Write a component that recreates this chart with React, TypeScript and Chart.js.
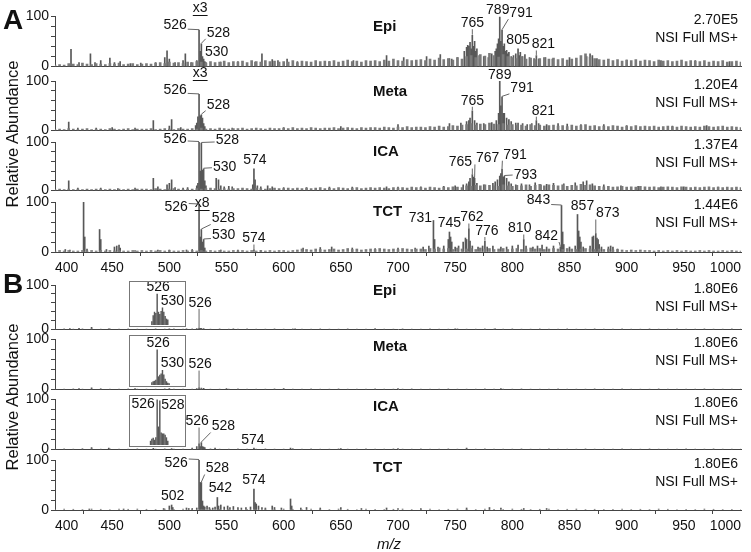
import React, { useEffect, useRef } from 'react';
import { Chart, registerables } from 'chart.js';

Chart.register(...registerables);

const FONT = '"Liberation Sans", Arial, Helvetica, sans-serif';
const PEAK_C = '#585858';
const NOISE_C = '#7a7a7a';
const AXIS_C = '#444';

// ---------- x grids for baseline noise (m/z) ----------
const gridA = [400,404,408,412,416,420,424,428,432,436,440,444,448,452,456,460,464,468,472,476,480,484,488,492,496,500,504,508,512,516,520,524,528,532,536,540,544,548,552,556,560,564,568,572,576,580,584,588,592,596,600,604,608,612,616,620,624,628,632,636,640,644,648,652,656,660,664,668,672,676,680,684,688,692,696,700,704,708,712,716,720,724,728,732,736,740,744,748,752,756,760,764,768,772,776,780,784,788,792,796,800,804,808,812,816,820,824,828,832,836,840,844,848,852,856,860,864,868,872,876,880,884,888,892,896,900,904,908,912,916,920,924,928,932,936,940,944,948,952,956,960,964,968,972,976,980,984,988,992,996,1000];
const gridB = [400,408,416,424,432,440,448,456,464,472,480,488,496,504,512,520,528,536,544,552,560,568,576,584,592,600,608,616,624,632,640,648,656,664,672,680,688,696,704,712,720,728,736,744,752,760,768,776,784,792,800,808,816,824,832,840,848,856,864,872,880,888,896,904,912,920,928,936,944,952,960,968,976,984,992,1000];

// ---------- Panel A: baseline noise (relative abundance %) ----------
const epiANoise = [
  3,4,3,6,5,4,7,5,4,6, 5,4,6,5,7,4,5,6,4,5, 6,5,7,8,6,9,7,8,6,9, 8,10,9,7,10,8,9,11,8,10,
  9,11,8,12,10,9,12,10,11,9, 10,9,12,8,11,10,9,12,10,11, 10,12,9,11,13,10,11,9,12,11, 12,10,13,11,15,12,11,14,12,13,
  14,12,15,13,17,14,16,13,18,15, 20,22,18,24,21,26,22,19,24,20, 18,16,20,15,17,14,16,18,15,17, 14,16,13,15,17,22,25,19,16,14,
  13,15,12,14,11,13,12,14,11,13, 12,10,13,11,12,10,11,13,10,12, 11,10,12,9,11,10,12,9,10,11, 9];
const metaANoise = [
  2,3,2,4,3,2,3,4,2,3, 3,2,4,3,2,3,4,2,3,3, 3,4,2,3,4,3,2,4,3,3, 4,3,5,3,4,3,5,4,3,4,
  4,5,3,4,5,4,3,5,4,4, 5,4,6,4,5,4,6,5,4,5, 5,6,4,5,6,5,4,6,5,6, 6,5,7,6,5,7,6,8,6,7,
  7,6,8,7,9,7,8,10,9,11, 12,14,11,13,12,15,13,12,14,11, 12,10,11,9,12,10,11,9,10,11, 9,10,8,11,9,10,12,9,10,8,
  9,8,10,9,7,9,8,10,8,9, 8,9,7,8,9,8,7,9,8,7, 8,7,9,8,7,8,9,7,8,7, 6];
const icaANoise = [
  2,3,2,3,2,3,2,3,2,3, 3,2,3,2,3,2,3,2,3,3, 3,2,4,3,2,3,4,3,2,3, 3,4,3,4,5,4,3,4,3,4,
  4,5,4,3,5,4,3,4,5,4, 4,5,4,5,4,5,4,5,6,4, 5,4,6,5,4,5,6,4,5,6, 5,6,5,4,6,5,6,5,7,6,
  6,5,7,6,5,7,6,8,7,6, 10,9,11,10,12,11,10,9,12,10, 9,11,10,12,9,11,13,10,12,11, 10,12,9,11,10,13,11,12,10,9,
  8,9,7,8,9,7,8,7,9,8, 7,8,6,7,8,7,6,8,7,6, 7,6,7,8,6,7,6,7,6,7, 6];
const tctANoise = [
  2,3,2,3,2,2,3,2,3,2, 3,2,3,2,3,2,2,3,2,3, 2,3,2,3,2,3,2,2,3,2, 3,2,3,2,3,2,3,2,2,3,
  2,3,2,3,2,3,2,3,2,3, 3,2,3,4,6,5,4,6,5,4, 5,6,4,5,7,5,6,4,5,6, 5,7,6,5,6,5,7,6,5,6,
  6,5,7,6,8,6,7,5,8,6, 6,7,5,8,6,7,5,6,7,5, 6,7,5,6,8,6,7,5,6,7, 6,5,7,6,5,6,7,6,5,6,
  5,6,4,5,4,3,4,3,4,3, 3,2,3,2,3,2,3,2,3,2, 2,3,2,3,2,2,3,2,3,2, 2];

// ---------- Panel A: peaks [m/z, relative abundance %] ----------
const epiAPeaks: [number, number][] = [
  [414,34],[421,8],[431,25],[435,8],[440,12],[448,17],[452,8],[457,10],[466,6],[475,7],[488,8],[496,18],[498,31],[500,15],
  [505,8],[512,12],[514,25],[519,8],[524,12],[526,72],[527,30],[528,45],[529,20],[530,15],[531,10],[532,8],[545,9],[560,10],
  [575,9],[581,25],[590,14],[595,12],[603,15],[612,10],[640,10],[661,12],[690,22],[705,18],[725,20],[737,24],[745,16],[747,15],
  [752,18],[758,30],[760,38],[761,42],[762,40],[763,48],[764,35],[765,62],[766,40],[767,50],[768,30],[769,35],[771,22],[775,20],
  [779,18],[782,25],[785,30],[786,35],[787,45],[788,55],[789,98],[790,50],[791,72],[792,40],[793,45],[794,30],[795,32],[796,25],
  [797,28],[799,20],[801,22],[803,25],[805,35],[806,22],[807,28],[809,20],[811,24],[815,18],[819,16],[821,22],[823,15],[829,18],
  [835,15],[850,18],[865,20],[868,25],[870,22],[874,16],[900,13],[930,12],[960,12],[990,10]];
const metaAPeaks: [number, number][] = [
  [412,17],[420,5],[436,5],[450,6],[470,5],[486,20],[500,9],[502,22],[510,6],[523,10],[524,15],[525,28],[526,73],[527,30],
  [528,32],[529,25],[530,14],[531,8],[555,5],[600,6],[650,8],[700,12],[745,14],[755,15],[760,18],[762,20],[763,25],[765,40],
  [767,20],[769,15],[775,14],[782,16],[786,20],[788,35],[789,100],[790,50],[791,68],[792,35],[793,35],[795,25],[797,22],[799,18],
  [803,15],[805,15],[809,14],[813,12],[817,14],[821,20],[823,14],[830,12],[840,14],[848,13],[860,12],[880,12],[900,10],[940,9],[970,10]];
const icaAPeaks: [number, number][] = [
  [412,20],[420,5],[440,5],[455,4],[470,5],[486,25],[490,8],[498,12],[500,15],[502,22],[505,6],[512,5],[516,6],[524,10],[525,15],
  [526,100],[527,40],[528,98],[529,42],[530,45],[531,20],[532,10],[541,25],[543,22],[545,10],[548,8],[552,9],[555,8],[573,12],
  [574,45],[575,22],[577,10],[580,8],[586,10],[590,8],[600,6],[620,6],[640,7],[660,7],[690,8],[700,7],[720,8],[740,9],[750,10],
  [757,12],[760,14],[762,18],[763,25],[765,33],[766,28],[767,25],[769,15],[775,12],[783,15],[785,18],[787,22],[789,30],[790,35],
  [791,45],[792,28],[793,30],[795,25],[797,18],[799,14],[803,12],[808,14],[815,12],[820,16],[825,12],[830,13],[836,15],[845,14],
  [855,16],[862,18],[865,20],[870,14],[880,12],[895,10],[910,9],[930,8],[950,8],[980,7]];
const tctAPeaks: [number, number][] = [
  [409,5],[413,4],[425,100],[426,30],[428,6],[439,45],[440,25],[445,5],[452,10],[454,12],[456,14],[457,8],[470,3],[490,4],
  [500,4],[515,4],[520,5],[526,95],[527,30],[528,45],[529,20],[530,25],[531,8],[545,4],[560,4],[574,5],[580,3],[617,8],[632,9],
  [642,10],[660,8],[680,7],[700,8],[715,8],[722,10],[727,12],[731,63],[732,25],[735,10],[740,12],[744,25],[745,40],[746,30],
  [747,20],[750,10],[753,12],[757,20],[759,28],[760,25],[762,47],[763,22],[765,12],[770,10],[774,12],[776,22],[778,10],[783,12],
  [790,10],[795,10],[800,12],[805,14],[810,25],[812,12],[818,10],[822,12],[826,14],[830,10],[836,12],[842,10],[843,93],[844,40],
  [845,15],[850,10],[855,12],[857,75],[858,42],[859,30],[860,20],[862,10],[868,12],[870,30],[871,32],[873,37],[874,28],[875,25],
  [876,15],[878,10],[884,10],[886,12],[888,10],[892,6]];

// ---------- Panel B: baseline noise ----------
const epiBNoise = [1,1.5,1,2,1.5,1,2,1,1.5,1, 1,1.5,1,2,1,1.5,1,1,1.5,1, 1,1.5,1,1,1.5,1,2,1,1,1.5, 1,1,1.5,1,1,1.5,1,1,1.5,1,
  1,1.5,1,1,1.5,1,1,2,1,1, 1.5,1,1,1.5,1,1,1.5,1,1,1.5, 1,1,1.5,1,1,1.5,1,1,1.5,1, 1,1.5,1,1,1.5,1];
const metaBNoise = [1,1,1.5,1,1,2,1,1,1.5,1, 1,1,1.5,1,1,1,1.5,1,1,1, 1.5,1,1,1,1.5,1,1,1,1.5,1, 1,1.5,1,1,1,1.5,1,1,1,1.5,
  1,1,1,1.5,1,1,1,1.5,1,1, 1,1.5,1,1,1,1.5,1,1,1,1.5, 1,1,1.5,1,1,1,1.5,1,1,1, 1,1.5,1,1,1,1];
const icaBNoise = [1,1.5,1,2,1.5,1,1.5,1,1,1.5, 1,1,1.5,1,1,1.5,1,1.5,1,1, 1.5,1,1,1.5,1,1,2,1,1.5,1, 1,1.5,1,1,1.5,1,1,1.5,1,1,
  1.5,1,1,1.5,1,1,1,1.5,1,1, 1,1.5,1,1,1.5,1,1,1,1.5,1, 1,1,1.5,1,1,1.5,1,1,1,1.5, 1,1,1.5,1,1,1];
const tctBNoise = [1.5,2,1.5,1,2,1.5,1,2,1.5,2, 1.5,1,2,1.5,2,1,1.5,2,1.5,1, 2,1.5,1,2,1.5,2,1.5,1,2,1.5, 1,2,1.5,1,2,1.5,1,1.5,2,1,
  1.5,2,1,1.5,2,1.5,1,2,1.5,1, 2,1.5,1,1.5,2,1,1.5,2,1,1.5, 1,1.5,2,1,1.5,1,2,1.5,1,1.5, 1,2,1.5,1,1.5,1];

// ---------- Panel B: peaks ----------
const epiBPeaks: [number, number][] = [[413,2.5],[421,3],[432,5],[447,2],[500,2],[515,2],[524,2.5],[526,4],[527,3],[528,3],[530,2.5],[556,2],[610,2],[680,2],[750,2],[785,2]];
const metaBPeaks: [number, number][] = [[421,2],[432,3.5],[470,2],[500,2],[524,2],[526,4],[528,3],[530,2.5],[550,2],[600,2],[700,2],[790,2]];
const icaBPeaks: [number, number][] = [[432,4],[447,3],[486,2.5],[502,2],[520,3],[524,6],[526,12],[527,6],[528,14],[529,6],[530,5],[531,4],[540,3],[574,3],[606,3],[650,2],[700,2],[760,3]];
const tctBPeaks: [number, number][] = [
  [430,2],[460,2],[495,3],[500,8],[502,10],[503,5],[515,4],[517,3],[520,3],[524,4],[526,100],[527,55],[528,55],[529,18],[530,8],
  [531,6],[533,8],[535,5],[538,4],[540,6],[542,25],[543,8],[545,10],[548,6],[551,8],[553,5],[556,7],[560,5],[563,4],[567,5],
  [571,6],[574,42],[575,15],[576,12],[578,8],[581,5],[584,4],[590,8],[592,5],[598,4],[606,22],[607,8],[615,4],[620,5],[632,4],
  [650,5],[668,3],[690,4],[700,3],[720,3],[760,4],[780,5],[790,4],[810,3],[830,3]];

// ---------- Panel B insets (isotope clusters) ----------
const epiInsetMz = [522,523,524,525,526,527,528,529,530,531,532,533,534];
const epiInsetVal = [8,22,30,27,72,30,25,32,40,30,20,14,12];
const metaInsetMz = [522,523,524,525,526,527,528,529,530,531,532,533,534,535];
const metaInsetVal = [5,7,8,10,72,17,20,23,30,21,12,7,4,3];
const icaInsetMz = [521,522,523,524,525,526,527,528,529,530,531,532,533,534];
const icaInsetVal = [8,12,14,10,15,92,37,90,25,23,23,20,15,8];

// ---------- text ----------
const sampleNames = ['Epi', 'Meta', 'ICA', 'TCT'];
const nlA = ['2.70E5', '1.20E4', '1.37E4', '1.44E6'];
const nlB = ['1.80E6', '1.80E6', '1.80E6', '1.80E6'];
const scanType = 'NSI Full MS+';
const xTicks = { min: 400, max: 1000, step: 50 };

type Peak = [number, number];
interface Lbl { t: string; mz: number; v?: number; dx: number; dy: number; u?: boolean; nl?: boolean }

const epiALabels: Lbl[] = [
  { t: 'x3', mz: 527, v: 100, dx: 0, dy: -8, u: true, nl: true },
  { t: '526', mz: 526, dx: -24, dy: -5 }, { t: '528', mz: 528, dx: 17, dy: -11 }, { t: '530', mz: 530, dx: 13, dy: -7 },
  { t: '765', mz: 765, dx: 0, dy: -12 }, { t: '789', mz: 789, dx: -2, dy: -7, nl: true }, { t: '791', mz: 791, dx: 19, dy: -17 },
  { t: '805', mz: 805, dx: 0, dy: -9 }, { t: '821', mz: 821, dx: 7, dy: -11 }];
const metaALabels: Lbl[] = [
  { t: 'x3', mz: 527, v: 100, dx: 0, dy: -8, u: true, nl: true },
  { t: '526', mz: 526, dx: -24, dy: -4 }, { t: '528', mz: 528, dx: 17, dy: -10 },
  { t: '765', mz: 765, dx: 0, dy: -10 }, { t: '789', mz: 789, dx: 0, dy: -6, nl: true }, { t: '791', mz: 791, dx: 20, dy: -9 },
  { t: '821', mz: 821, dx: 7, dy: -10 }];
const icaALabels: Lbl[] = [
  { t: '526', mz: 526, dx: -24, dy: -3 }, { t: '528', mz: 528, dx: 26, dy: -3 }, { t: '530', mz: 530, dx: 21, dy: -2 },
  { t: '574', mz: 574, dx: 1, dy: -9 }, { t: '765', mz: 765, dx: -12, dy: -12 }, { t: '767', mz: 767, dx: 13, dy: -20 },
  { t: '791', mz: 791, dx: 13, dy: -14 }, { t: '793', mz: 793, dx: 21, dy: -1 }];
const tctALabels: Lbl[] = [
  { t: 'x8', mz: 527, v: 100, dx: 2, dy: 1, u: true, nl: true },
  { t: '526', mz: 526, dx: -23, dy: 3 }, { t: '528', mz: 528, dx: 22, dy: -11 }, { t: '530', mz: 530, dx: 20, dy: -4 },
  { t: '574', mz: 574, dx: 0, dy: -11 }, { t: '731', mz: 731, dx: -13, dy: -2, nl: true }, { t: '745', mz: 745, dx: 0, dy: -9 },
  { t: '762', mz: 762, dx: 3, dy: -11 }, { t: '776', mz: 776, dx: 2, dy: -10 }, { t: '810', mz: 810, dx: -4, dy: -11 },
  { t: '842', mz: 842, dx: -14, dy: -11 }, { t: '843', mz: 843, dx: -23, dy: -5 }, { t: '857', mz: 857, dx: 5, dy: -8 },
  { t: '873', mz: 873, dx: 12, dy: -20 }];
const epiBLabels: Lbl[] = [{ t: '526', mz: 526, dx: 1, dy: -25 }];
const metaBLabels: Lbl[] = [{ t: '526', mz: 526, dx: 1, dy: -23 }];
const icaBLabels: Lbl[] = [{ t: '526', mz: 526, dx: -2, dy: -22 }, { t: '528', mz: 528, dx: 22, dy: -16 }, { t: '574', mz: 574, dx: -1, dy: -8 }];
const tctBLabels: Lbl[] = [
  { t: '526', mz: 526, dx: -23, dy: 3 }, { t: '528', mz: 528, dx: 16, dy: -14 }, { t: '542', mz: 542, dx: 3, dy: -9 },
  { t: '574', mz: 574, dx: 0, dy: -9 }, { t: '502', mz: 502, dx: 1, dy: -9 }];
const epiInsetLabels: Lbl[] = [{ t: '526', mz: 526, dx: 1, dy: -7, nl: true }, { t: '530', mz: 530, dx: 10, dy: -7, nl: true }];
const metaInsetLabels: Lbl[] = [{ t: '526', mz: 526, dx: 1, dy: -7, nl: true }, { t: '530', mz: 530, dx: 10, dy: -7, nl: true }];
const icaInsetLabels: Lbl[] = [{ t: '526', mz: 526, dx: -14, dy: 4, nl: true }, { t: '528', mz: 528, dx: 13, dy: 4, nl: true }];

// ---------- layout ----------
const W = 751;
const PAD_TOP = 14;
const PAD_BOT = 10;
const X_AXIS_H = 26;

interface PanelCfg {
  top: number; bottom: number; axis: boolean; name: string; nl: string; grid: number[]; noise: number[];
  peaks: Peak[]; labels: Lbl[]; thick: number; nameDy: number; nlDy: number;
}

const PANELS: PanelCfg[] = [
  { top: 16, bottom: 67, axis: false, name: sampleNames[0], nl: nlA[0], grid: gridA, noise: epiANoise, peaks: epiAPeaks, labels: epiALabels, thick: 2, nameDy: 11, nlDy: 4 },
  { top: 81, bottom: 131, axis: false, name: sampleNames[1], nl: nlA[1], grid: gridA, noise: metaANoise, peaks: metaAPeaks, labels: metaALabels, thick: 2, nameDy: 11, nlDy: 4 },
  { top: 142, bottom: 191, axis: false, name: sampleNames[2], nl: nlA[2], grid: gridA, noise: icaANoise, peaks: icaAPeaks, labels: icaALabels, thick: 2, nameDy: 10, nlDy: 3 },
  { top: 202, bottom: 252, axis: true, name: sampleNames[3], nl: nlA[3], grid: gridA, noise: tctANoise, peaks: tctAPeaks, labels: tctALabels, thick: 2, nameDy: 10, nlDy: 3 },
  { top: 285, bottom: 330, axis: false, name: sampleNames[0], nl: nlB[0], grid: gridB, noise: epiBNoise, peaks: epiBPeaks, labels: epiBLabels, thick: 1, nameDy: 6, nlDy: 4 },
  { top: 339, bottom: 390, axis: false, name: sampleNames[1], nl: nlB[1], grid: gridB, noise: metaBNoise, peaks: metaBPeaks, labels: metaBLabels, thick: 1, nameDy: 8, nlDy: 4 },
  { top: 399, bottom: 450, axis: false, name: sampleNames[2], nl: nlB[2], grid: gridB, noise: icaBNoise, peaks: icaBPeaks, labels: icaBLabels, thick: 1, nameDy: 8, nlDy: 4 },
  { top: 460, bottom: 510, axis: true, name: sampleNames[3], nl: nlB[3], grid: gridB, noise: tctBNoise, peaks: tctBPeaks, labels: tctBLabels, thick: 1, nameDy: 8, nlDy: 4 },
];

interface InsetCfg { panel: number; mz: number[]; val: number[]; labels: Lbl[] }
const INSETS: InsetCfg[] = [
  { panel: 4, mz: epiInsetMz, val: epiInsetVal, labels: epiInsetLabels },
  { panel: 5, mz: metaInsetMz, val: metaInsetVal, labels: metaInsetLabels },
  { panel: 6, mz: icaInsetMz, val: icaInsetVal, labels: icaInsetLabels },
];
const INSET_LEFT = 129;
const INSET_W = 57;

function lookup(peaks: Peak[], mz: number): number {
  const p = peaks.find((q) => q[0] === mz);
  return p ? p[1] : 0;
}

function makeAnnot(o: { labels: Lbl[]; peaks: Peak[]; name?: string; nl?: string; nameDy?: number; nlDy?: number }) {
  return {
    id: 'annot',
    afterDraw(chart: any) {
      const { ctx, chartArea, scales } = chart;
      const xs = scales.x;
      const ys = scales.y;
      ctx.save();
      ctx.fillStyle = '#111';
      ctx.textBaseline = 'middle';
      if (o.name) {
        ctx.font = `bold 15px ${FONT}`;
        ctx.textAlign = 'left';
        ctx.fillText(o.name, 373, chartArea.top + (o.nameDy || 0));
      }
      if (o.nl) {
        ctx.font = `14px ${FONT}`;
        ctx.textAlign = 'right';
        ctx.fillText(o.nl, chartArea.right - 3, chartArea.top + (o.nlDy || 0));
        ctx.fillText(scanType, chartArea.right - 3, chartArea.top + (o.nlDy || 0) + 18);
      }
      ctx.font = `14px ${FONT}`;
      ctx.textAlign = 'center';
      for (const l of o.labels) {
        const v = l.v !== undefined ? l.v : lookup(o.peaks, l.mz);
        const ax = xs.getPixelForValue(l.mz);
        const ay = ys.getPixelForValue(v);
        const cx = ax + l.dx;
        const cy = ay + l.dy;
        const w = ctx.measureText(l.t).width;
        ctx.fillStyle = '#111';
        ctx.fillText(l.t, cx, cy);
        if (l.u) {
          ctx.strokeStyle = '#111';
          ctx.lineWidth = 1;
          ctx.beginPath();
          ctx.moveTo(cx - w / 2, Math.round(cy + 7) + 0.5);
          ctx.lineTo(cx + w / 2, Math.round(cy + 7) + 0.5);
          ctx.stroke();
        }
        if (!l.nl) {
          const left = cx - w / 2 - 1, right = cx + w / 2 + 1, top = cy - 6, bottom = cy + 6;
          const px = Math.min(Math.max(ax, left), right);
          const py = Math.min(Math.max(ay - 1, top), bottom);
          const d = Math.hypot(px - ax, py - ay);
          if (d > 3) {
            ctx.strokeStyle = '#555';
            ctx.lineWidth = 0.9;
            ctx.beginPath();
            ctx.moveTo(ax, ay - 0.5);
            ctx.lineTo(px, py);
            ctx.stroke();
          }
        }
      }
      ctx.restore();
    },
  };
}

function Panel({ cfg }: { cfg: PanelCfg }) {
  const ref = useRef<HTMLCanvasElement | null>(null);
  const h = cfg.bottom - cfg.top + PAD_TOP + (cfg.axis ? X_AXIS_H : PAD_BOT);
  useEffect(() => {
    if (!ref.current) return;
    const tickFont = { family: FONT, size: 14 };
    const chart = new Chart(ref.current, {
      type: 'bar',
      data: {
        datasets: [
          {
            data: cfg.noise.map((v, i) => ({ x: cfg.grid[i], y: v })),
            backgroundColor: NOISE_C,
            barThickness: cfg.thick,
            grouped: false,
          } as any,
          {
            data: cfg.peaks.map((p) => ({ x: p[0], y: p[1] })),
            backgroundColor: PEAK_C,
            barThickness: 1,
            grouped: false,
          } as any,
        ],
      },
      options: {
        animation: false,
        responsive: false,
        events: [],
        layout: { padding: { top: PAD_TOP, bottom: cfg.axis ? 0 : PAD_BOT, left: 0, right: 10 } },
        plugins: { legend: { display: false }, tooltip: { enabled: false } },
        scales: {
          x: {
            type: 'linear',
            min: xTicks.min,
            max: xTicks.max,
            offset: false,
            afterFit: (s: any) => { s.height = cfg.axis ? X_AXIS_H : 0; },
            grid: { display: true, drawOnChartArea: false, drawTicks: cfg.axis, tickLength: 4, color: AXIS_C },
            border: { display: true, color: AXIS_C, width: 1 },
            ticks: {
              display: cfg.axis, stepSize: xTicks.step, align: 'inner', padding: 4, autoSkip: false,
              maxRotation: 0, color: '#111', font: tickFont,
              callback: (v: any) => String(v),
            },
          } as any,
          y: {
            min: 0,
            max: 100,
            afterFit: (s: any) => { s.width = 55; },
            grid: { display: true, drawOnChartArea: false, tickLength: 4, color: AXIS_C },
            border: { display: true, color: AXIS_C, width: 1 },
            ticks: {
              stepSize: 20, autoSkip: false, padding: 2, color: '#111', font: tickFont,
              callback: (v: any) => (v === 0 || v === 100 ? String(v) : ''),
            },
          } as any,
        },
      },
      plugins: [makeAnnot({ labels: cfg.labels, peaks: cfg.peaks, name: cfg.name, nl: cfg.nl, nameDy: cfg.nameDy, nlDy: cfg.nlDy })],
    });
    return () => chart.destroy();
  }, []);
  return (
    <canvas
      ref={ref}
      width={W}
      height={h}
      style={{ position: 'absolute', left: 0, top: cfg.top - PAD_TOP, width: W, height: h }}
    />
  );
}

function Inset({ cfg }: { cfg: InsetCfg }) {
  const ref = useRef<HTMLCanvasElement | null>(null);
  const p = PANELS[cfg.panel];
  const top = p.top - 4;
  const boxH = p.bottom - 3 - top;
  const cw = INSET_W - 2;
  const chh = boxH - 2;
  useEffect(() => {
    if (!ref.current) return;
    const peaks: Peak[] = cfg.mz.map((m, i) => [m, cfg.val[i]]);
    const chart = new Chart(ref.current, {
      type: 'bar',
      data: {
        datasets: [
          { data: cfg.mz.map((m, i) => ({ x: m, y: cfg.val[i] })), backgroundColor: PEAK_C, barThickness: 0.8, grouped: false } as any,
        ],
      },
      options: {
        animation: false,
        responsive: false,
        events: [],
        layout: { padding: { top: 0, bottom: 1, left: 0, right: 0 } },
        plugins: { legend: { display: false }, tooltip: { enabled: false } },
        scales: {
          x: { type: 'linear', min: 505.5, max: 547, offset: false, display: false } as any,
          y: { min: 0, max: 100, display: false } as any,
        },
      },
      plugins: [makeAnnot({ labels: cfg.labels, peaks })],
    });
    return () => chart.destroy();
  }, []);
  return (
    <div
      style={{
        position: 'absolute', left: INSET_LEFT, top, width: INSET_W, height: boxH,
        border: '1px solid #777', boxSizing: 'border-box',
      }}
    >
      <canvas ref={ref} width={cw} height={chh} style={{ display: 'block', width: cw, height: chh }} />
    </div>
  );
}

const textBase: React.CSSProperties = {
  position: 'absolute', fontFamily: FONT, color: '#111', lineHeight: 1, whiteSpace: 'nowrap',
  transform: 'translate(-50%, -50%)',
};

export default function App() {
  return (
    <div style={{ position: 'fixed', left: 0, top: 0, width: W, height: 552, background: '#fff', overflow: 'hidden' }}>
      {PANELS.map((p, i) => (
        <Panel key={i} cfg={p} />
      ))}
      {INSETS.map((c, i) => (
        <Inset key={'i' + i} cfg={c} />
      ))}
      <div style={{ ...textBase, left: 13, top: 20, fontSize: 28, fontWeight: 'bold' }}>A</div>
      <div style={{ ...textBase, left: 13, top: 284, fontSize: 28, fontWeight: 'bold' }}>B</div>
      <div style={{ ...textBase, left: 12, top: 134, fontSize: 16.5, transform: 'translate(-50%, -50%) rotate(-90deg)' }}>Relative Abundance</div>
      <div style={{ ...textBase, left: 12, top: 397, fontSize: 16.5, transform: 'translate(-50%, -50%) rotate(-90deg)' }}>Relative Abundance</div>
      <div style={{ ...textBase, left: 389, top: 543, fontSize: 15, fontStyle: 'italic' }}>m/z</div>
    </div>
  );
}
